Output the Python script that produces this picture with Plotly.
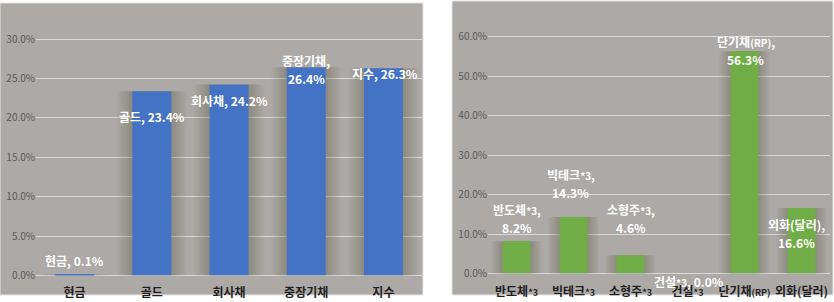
import plotly.graph_objects as go

# ---- data ----
left_categories = ["현금", "골드", "회사채", "중장기채", "지수"]
left_values = [0.001, 0.234, 0.242, 0.264, 0.263]

right_categories = ["반도체*3", "빅테크*3", "소형주*3", "건설*3", "단기채(RP)", "외화(달러)"]
right_tick_labels = ["반도체<span style='font-size:9px'>*3</span>",
                     "빅테크<span style='font-size:9px'>*3</span>",
                     "소형주<span style='font-size:9px'>*3</span>",
                     "건설<span style='font-size:9px'>*3</span>",
                     "단기채<span style='font-size:9px'>(RP)</span>", "외화(달러)"]
right_label_names = ["반도체<span style='font-size:10px'>*3</span>",
                     "빅테크<span style='font-size:10px'>*3</span>",
                     "소형주<span style='font-size:10px'>*3</span>",
                     "건설<span style='font-size:10px'>*3</span>",
                     "단기채<span style='font-size:10px'>(RP)</span>", "외화(달러)"]
right_values = [0.082, 0.143, 0.046, 0.000, 0.563, 0.166]

# ---- styles ----
W, H = 834, 302
BG = "#ADA9A7"
GRID = "#D9D9D9"
BLUE = "#4472C4"
GREEN = "#70AD47"
FONT = "Noto Sans CJK KR"

# label offsets (px): (xshift, yshift of label center relative to bar top), and line break flag
left_label_style = [(0, 14, False), (0, -25, False), (0, -16, False), (0, -2, True), (2, -5, False)]
right_label_style = [(0, 23, True), (-3, 34, True), (0, 37, True), (1, -8, False), (1, 1, True), (-5, -26, True)]


def px_x(p):
    return p / W


def px_y(p):
    return 1 - p / H


fig = go.Figure()

# panels background
fig.add_shape(type="rect", xref="paper", yref="paper", x0=0, x1=px_x(423), y0=0, y1=px_y(3),
              fillcolor=BG, line=dict(color="#E6E6E6", width=1), layer="below")
fig.add_shape(type="rect", xref="paper", yref="paper", x0=px_x(452), x1=px_x(833), y0=0, y1=px_y(1),
              fillcolor=BG, line=dict(color="#E6E6E6", width=1), layer="below")


def add_panel(cats, vals, color, bw, xa, ya):
    # soft shadow layers
    for i in range(10):
        k = 0.04 * (i + 1)
        fig.add_trace(go.Bar(x=cats, y=vals, width=bw + k,
                             marker=dict(color="rgba(80,75,70,0.035)", line=dict(width=0)),
                             xaxis=xa, yaxis=ya, hoverinfo="skip", showlegend=False))
    fig.add_trace(go.Bar(x=cats, y=vals, width=bw, marker=dict(color=color, line=dict(width=0)),
                         xaxis=xa, yaxis=ya, hoverinfo="skip", showlegend=False))


add_panel(left_categories, left_values, BLUE, 0.505, "x", "y")
add_panel(right_categories, right_values, GREEN, 0.49, "x2", "y2")

axis_common_y = dict(tickformat=".1%", showgrid=True, gridcolor=GRID, gridwidth=1,
                     zeroline=True, zerolinecolor=GRID, zerolinewidth=1,
                     tickfont=dict(family=FONT, size=10, color="#595959"),
                     ticks="", showline=False, fixedrange=True)
axis_common_x = dict(type="category", showgrid=False, zeroline=False, showline=False, ticks="",
                     tickfont=dict(family=FONT, size=12, color="#1F1F1F"), fixedrange=True,
                     tickmode="array", ticklabelstandoff=9)

fig.update_layout(
    width=W, height=H,
    margin=dict(l=0, r=0, t=0, b=0),
    paper_bgcolor="white",
    plot_bgcolor="rgba(0,0,0,0)",
    barmode="overlay",
    showlegend=False,
    xaxis=dict(domain=[px_x(36), px_x(422)], anchor="y", tickvals=left_categories,
               ticktext=[f"<b>{c}</b>" for c in left_categories], **axis_common_x),
    yaxis=dict(domain=[1 - 282 / H, 1 - 3 / H], anchor="x", range=[0, 0.346],
               dtick=0.05, **axis_common_y),
    xaxis2=dict(domain=[px_x(488), px_x(830)], anchor="y2",
                tickvals=right_categories, ticktext=[f"<b>{c}</b>" for c in right_tick_labels],
                **axis_common_x),
    yaxis2=dict(domain=[1 - 280 / H, 1 - 2 / H], anchor="x2", range=[0, 0.688],
                dtick=0.1, **axis_common_y),
)

LINE_GAP = 18


def add_labels(cats, vals, styles, xa, ya, names):
    for c, v, name, (dx, dy, brk) in zip(cats, vals, names, styles):
        pct = f"{v * 100:.1f}%"
        if brk:
            lines = [f"{name},", pct]
            offs = [dy + LINE_GAP / 2, dy - LINE_GAP / 2]
        else:
            lines = [f"{name}, {pct}"]
            offs = [dy]
        for t, o in zip(lines, offs):
            fig.add_annotation(x=c, y=v, xref=xa, yref=ya, text=f"<b>{t}</b>", showarrow=False,
                               xshift=dx, yshift=o, yanchor="middle", xanchor="center",
                               font=dict(family=FONT, size=12, color="white"))


add_labels(left_categories, left_values, left_label_style, "x", "y", left_categories)
add_labels(right_categories, right_values, right_label_style, "x2", "y2", right_label_names)

fig.write_html("out.html")
